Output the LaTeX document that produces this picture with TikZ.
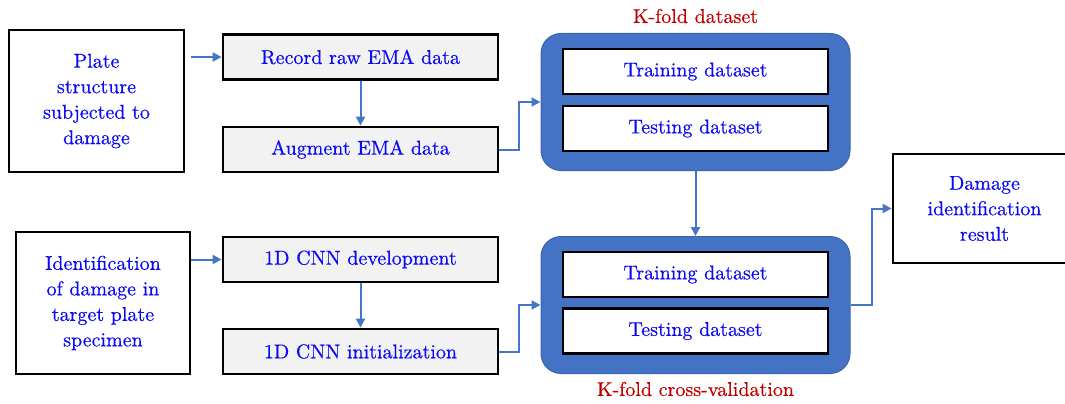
\documentclass[tikz,border=0pt]{standalone}
\usepackage{fontspec}
\newfontfamily\boxfont{lmroman10-regular.otf}[FakeBold=0.4]
\usetikzlibrary{arrows.meta}
\definecolor{txtblue}{RGB}{10,10,245}
\definecolor{lblred}{RGB}{192,0,0}
\definecolor{panelblue}{RGB}{68,114,196}
\definecolor{paneledge}{RGB}{60,100,175}
\definecolor{linkblue}{RGB}{70,118,200}
\definecolor{stepgray}{RGB}{242,242,242}
\begin{document}
\begin{tikzpicture}[x=1pt,y=-1pt,
  every node/.style={font=\boxfont\fontsize{20}{25.5}\selectfont, text=txtblue, align=center, inner sep=0pt},
  plainbox/.style={draw=black, line width=2.8pt, fill=white},
  stepbox/.style={draw=black, line width=2.8pt, fill=stepgray, minimum width=275pt, minimum height=45pt},
  setbox/.style={draw=black, line width=2.8pt, fill=white, minimum width=265pt, minimum height=45pt},
  panel/.style={draw=paneledge, line width=1pt, fill=panelblue, rounded corners=20pt, minimum width=309pt, minimum height=137pt},
  caption/.style={text=lblred},
  link/.style={draw=linkblue, line width=2pt, -{Triangle[length=9pt,width=9pt]}}
]
\useasboundingbox (0,0) rectangle (1065,404);
\clip (0,0) rectangle (1065,404);

% left column: inputs
\node[plainbox, minimum width=175pt, minimum height=142pt] (plate) at (96.5,101) {Plate\\structure\\subjected to\\damage};
\node[plainbox, minimum width=174pt, minimum height=142pt] (ident) at (103,303) {Identification\\of damage in\\target plate\\specimen};

% middle column: processing steps
\node[stepbox] (record) at (360.5,57) {Record raw EMA data};
\node[stepbox] (augment) at (360.5,149.5) {Augment EMA data};
\node[stepbox] (cnndev) at (360.5,259.5) {1D CNN development};
\node[stepbox] (cnninit) at (360.5,351.5) {1D CNN initialization};

% K-fold panels
\node[panel] (kfold) at (695.5,102) {};
\node[setbox] (train1) at (695.5,71.5) {Training dataset};
\node[setbox] (test1) at (695.5,128.5) {Testing dataset};
\node[caption] (kfoldlbl) at (695.5,16) {K-fold dataset};

\node[panel] (kcv) at (695.5,305) {};
\node[setbox] (train2) at (695.5,274.5) {Training dataset};
\node[setbox] (test2) at (695.5,331) {Testing dataset};
\node[caption] (kcvlbl) at (695.5,389) {K-fold cross-validation};

% output (runs off the right edge)
\node[plainbox, minimum width=183pt, minimum height=109pt] (result) at (984.5,208.5) {Damage\\identification\\result};

% connectors
\coordinate (platestart) at (191,57);
\coordinate (identstart) at (191,259.5);
\draw[link] (platestart) -- (record.west);
\draw[link] (identstart) -- (cnndev.west);
\draw[link] (record.south) -- (augment.north);
\draw[link] (cnndev.south) -- (cnninit.north);
\draw[link] (augment.east) -| (519,102) -- (kfold.west);
\draw[link] (cnninit.east) -| (519,305) -- (kcv.west);
\draw[link] (kfold.south) -- (kcv.north);
\draw[link] (kcv.east) -| (872,208.5) -- (result.west);
\end{tikzpicture}
\end{document}
